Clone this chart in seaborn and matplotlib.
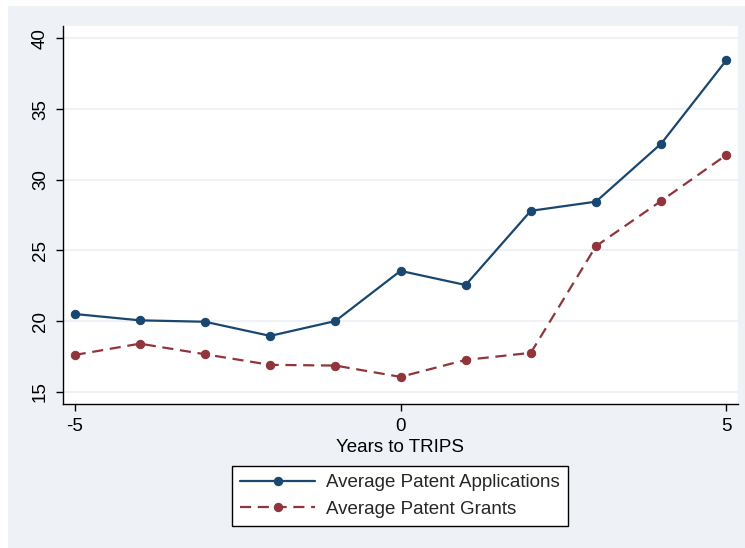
import numpy as np
import pandas as pd
import seaborn as sns
import matplotlib.pyplot as plt
from matplotlib.patches import Rectangle

# data
years = [-5, -4, -3, -2, -1, 0, 1, 2, 3, 4, 5]
applications = [20.5, 20.05, 19.95, 18.95, 20.0, 23.55, 22.55, 27.8, 28.45, 32.55, 38.45]
grants = [17.6, 18.4, 17.65, 16.9, 16.85, 16.05, 17.25, 17.75, 25.3, 28.5, 31.75]

navy = '#1a476f'
maroon = '#90353b'
bg = '#eef1f6'

sns.set_theme(style='white')
plt.rcParams['font.family'] = ['Liberation Sans', 'DejaVu Sans']
plt.rcParams['axes.unicode_minus'] = False

fig = plt.figure(figsize=(7.45, 5.48), dpi=100, facecolor='white')
# outer graph region
fig.patches.append(Rectangle((8 / 745, 0), 1 - 8 / 745, 1 - 6 / 548,
                             transform=fig.transFigure, facecolor=bg,
                             edgecolor='none', zorder=-10))
ax = fig.add_axes([63 / 745, 1 - 404 / 548, 675 / 745, 378 / 548])
ax.set_facecolor('white')

sns.lineplot(x=years, y=applications, ax=ax, color=navy, marker='o',
             markersize=6, markeredgecolor=navy, linewidth=1.6,
             label='Average Patent Applications')
sns.lineplot(x=years, y=grants, ax=ax, color=maroon, marker='o',
             markersize=6, markeredgecolor=maroon, linewidth=1.6,
             linestyle=(0, (5, 3)), label='Average Patent Grants')

ax.set_xlim(-5.18, 5.18)
ax.set_ylim(14.13, 40.88)
ax.set_xticks([-5, 0, 5])
ax.set_yticks([15, 20, 25, 30, 35, 40])
ax.grid(axis='y', color=bg, linewidth=1.5)
ax.grid(axis='x', visible=False)
ax.set_axisbelow(True)

for s in ['top', 'right']:
    ax.spines[s].set_visible(False)
for s in ['left', 'bottom']:
    ax.spines[s].set_color('black')
    ax.spines[s].set_linewidth(1.0)

ax.tick_params(axis='both', which='major', direction='out', length=5,
               width=1, color='black', labelsize=13.5, labelcolor='black',
               bottom=True, left=True, pad=5)
for lab in ax.get_yticklabels():
    lab.set_rotation(90)
    lab.set_va('center')

ax.set_xlabel('Years to TRIPS', fontsize=13.5, color='black', labelpad=3)
ax.set_ylabel('')

leg = ax.legend(loc='center', bbox_to_anchor=(400 / 745, 1 - 496 / 548),
                bbox_transform=fig.transFigure, fontsize=13.5, frameon=True,
                fancybox=False, edgecolor='black', facecolor='white',
                framealpha=1, handlelength=4.0, borderpad=0.45,
                labelspacing=0.5, handletextpad=0.6, borderaxespad=0)
leg.get_frame().set_linewidth(1.0)

fig.savefig('out.png', dpi=100, facecolor='white')
